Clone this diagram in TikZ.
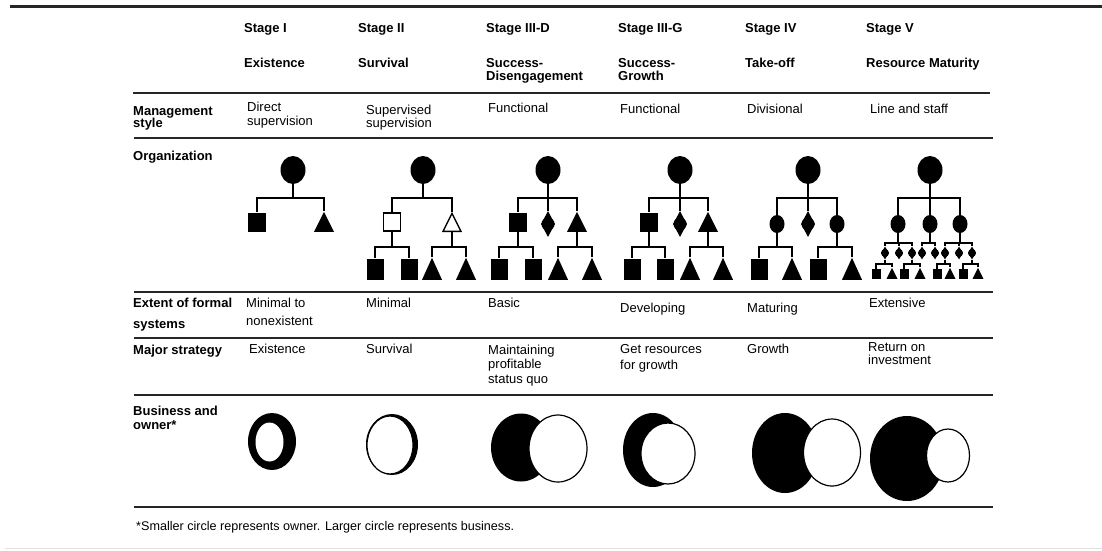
\documentclass[tikz,border=0pt]{standalone}
\usepackage{fontspec}
\setmainfont{Liberation Sans}
\usetikzlibrary{shapes.geometric}
\newcommand\orgedge[3]{\draw[con] (#1.south) |- (#2.north |- #3) -- (#2.north);}
\begin{document}
\begin{tikzpicture}[x=1pt,y=-1pt,
  hd/.style={anchor=base west,inner sep=0,align=left,font=\bfseries\fontsize{13}{13}\selectfont},
  tx/.style={anchor=base west,inner sep=0,align=left,font=\fontsize{13}{13.5}\selectfont},
  foottx/.style={anchor=base west,inner sep=0,font=\fontsize{12.6}{13}\selectfont},
  rule/.style={line width=2.2pt,black!85},
  con/.style={line width=1.8pt},
  root/.style={ellipse,fill,draw=none,inner sep=0,minimum width=25,minimum height=28},
  midc/.style={ellipse,fill,draw=none,inner sep=0,minimum width=15,minimum height=18},
  sq/.style={rectangle,fill,draw=none,inner sep=0,minimum width=18,minimum height=19},
  hsq/.style={rectangle,fill=white,draw,line width=1.3pt,inner sep=0,minimum width=17,minimum height=18},
  lsq/.style={rectangle,fill,draw=none,inner sep=0,minimum width=17,minimum height=21},
  ssq/.style={rectangle,fill,draw=none,inner sep=0,minimum width=9,minimum height=10},
  tri/.style={isosceles triangle,isosceles triangle stretches,shape border rotate=90,fill,draw=none,inner sep=0,minimum width=20,minimum height=20,anchor=south},
  htri/.style={isosceles triangle,isosceles triangle stretches,shape border rotate=90,fill=white,draw,line width=1.3pt,inner sep=0,minimum width=18,minimum height=18,anchor=south},
  ltri/.style={isosceles triangle,isosceles triangle stretches,shape border rotate=90,fill,draw=none,inner sep=0,minimum width=20,minimum height=22,anchor=south},
  stri/.style={isosceles triangle,isosceles triangle stretches,shape border rotate=90,fill,draw=none,inner sep=0,minimum width=11,minimum height=11,anchor=south},
  dia/.style={diamond,fill,draw=none,inner sep=0,minimum width=14,minimum height=26},
  sdia/.style={diamond,fill,draw=none,inner sep=0,minimum width=8,minimum height=13},
  bus/.style={fill=black},
  own/.style={fill=white,draw=black,line width=1.2pt}
]
\useasboundingbox (0,0) rectangle (1102,550);
% rules
\draw[rule,line width=2.5pt] (10,6.5) -- (1102,6.5);
\draw[rule] (133,93) -- (990,93);
\foreach \yy in {138,292,338,395,507} \draw[rule] (134,\yy) -- (993,\yy);
\draw[black!12,line width=1pt] (5,548.5) -- (1102,548.5);
% header (base anchor = baseline of the last line)
\node[hd] (h1) at (244,32) {Stage I};
\node[hd] (h2) at (358,32) {Stage II};
\node[hd] (h3) at (486,32) {Stage III-D};
\node[hd] (h4) at (618,32) {Stage III-G};
\node[hd] (h5) at (745,32) {Stage IV};
\node[hd] (h6) at (866,32) {Stage V};
\node[hd] (n1) at (244,67) {Existence};
\node[hd] (n2) at (358,67) {Survival};
\node[hd] (n3) at (486,80) {Success-\\Disengagement};
\node[hd] (n4) at (618,80) {Success-\\Growth};
\node[hd] (n5) at (745,67) {Take-off};
\node[hd] (n6) at (866,67) {Resource Maturity};
% row labels
\node[hd] (l1) at (133,127) {Management\\[-1pt]style};
\node[hd] (l2) at (133,160) {Organization};
\node[hd] (l3) at (133,328) {Extent of formal\\[8pt]systems};
\node[hd] (l4) at (133,354) {Major strategy};
\node[hd] (l5) at (133,429) {Business and\\[1pt]owner*};
% management style
\node[tx] (m1) at (247,125) {Direct\\[0.5pt]supervision};
\node[tx] (m2) at (366,127) {Supervised\\[-0.5pt]supervision};
\node[tx] (m3) at (488,112) {Functional};
\node[tx] (m4) at (620,113) {Functional};
\node[tx] (m5) at (747,113) {Divisional};
\node[tx] (m6) at (870,113) {Line and staff};
% extent of formal systems
\node[tx] (e1) at (246,325) {Minimal to\\[4.5pt]nonexistent};
\node[tx] (e2) at (366,307) {Minimal};
\node[tx] (e3) at (488,307) {Basic};
\node[tx] (e4) at (620,312) {Developing};
\node[tx] (e5) at (747,312) {Maturing};
\node[tx] (e6) at (869,307) {Extensive};
% major strategy
\node[tx] (g1) at (249,353) {Existence};
\node[tx] (g2) at (366,353) {Survival};
\node[tx] (g3) at (488,383) {Maintaining\\[1pt]profitable\\[1pt]status quo};
\node[tx] (g4) at (620,369) {Get resources\\[2.5pt]for growth};
\node[tx] (g5) at (747,353) {Growth};
\node[tx] (g6) at (868,364) {Return on\\[-0.5pt]investment};
% footnote
\node[foottx] (foot) at (136,530) {*Smaller circle represents owner. Larger circle represents business.};
% bar levels
\coordinate (barA) at (0,198);
\coordinate (barB) at (0,247);
\coordinate (barC) at (0,243);
\coordinate (barD) at (0,264);
% Stage I tree
\node[root] (a0) at (293,170) {};
\node[sq] (a1) at (257,222) {};
\node[tri] (a2) at (324,232) {};
\orgedge{a0}{a1}{barA} \orgedge{a0}{a2}{barA}
% Stage II tree
\node[root] (b0) at (423,170) {};
\node[hsq] (b1) at (392,222) {};
\node[htri] (b2) at (452,232) {};
\node[lsq] (b3) at (375,269) {};
\node[lsq] (b4) at (409,269) {};
\node[ltri] (b5) at (432,280) {};
\node[ltri] (b6) at (466,280) {};
\orgedge{b0}{b1}{barA} \orgedge{b0}{b2}{barA}
\orgedge{b1}{b3}{barB} \orgedge{b1}{b4}{barB}
\orgedge{b2}{b5}{barB} \orgedge{b2}{b6}{barB}
% Stage III-D tree
\node[root] (c0) at (548,170) {};
\node[sq] (c1) at (518,222) {};
\node[dia] (c2) at (548,224) {};
\node[tri] (c3) at (577,232) {};
\node[lsq] (c4) at (499,269) {};
\node[lsq] (c5) at (533,269) {};
\node[ltri] (c6) at (558,280) {};
\node[ltri] (c7) at (592,280) {};
\orgedge{c0}{c1}{barA} \orgedge{c0}{c2}{barA} \orgedge{c0}{c3}{barA}
\orgedge{c1}{c4}{barB} \orgedge{c1}{c5}{barB}
\orgedge{c3}{c6}{barB} \orgedge{c3}{c7}{barB}
\fill (c2.center) circle (6.5);
% Stage III-G tree
\node[root] (d0) at (680,170) {};
\node[sq] (d1) at (649,222) {};
\node[dia] (d2) at (680,224) {};
\node[tri] (d3) at (708,232) {};
\node[lsq] (d4) at (632,269) {};
\node[lsq] (d5) at (665,269) {};
\node[ltri] (d6) at (690,280) {};
\node[ltri] (d7) at (723,280) {};
\orgedge{d0}{d1}{barA} \orgedge{d0}{d2}{barA} \orgedge{d0}{d3}{barA}
\orgedge{d1}{d4}{barB} \orgedge{d1}{d5}{barB}
\orgedge{d3}{d6}{barB} \orgedge{d3}{d7}{barB}
\fill (d2.center) circle (6.5);
% Stage IV tree
\node[root] (e0) at (808,170) {};
\node[midc] (e1n) at (777,224) {};
\node[dia] (e2n) at (808,224) {};
\node[midc] (e3n) at (837,224) {};
\node[lsq] (e4n) at (759,269) {};
\node[ltri] (e5n) at (792,280) {};
\node[lsq] (e6n) at (818,269) {};
\node[ltri] (e7n) at (852,280) {};
\orgedge{e0}{e1n}{barA} \orgedge{e0}{e2n}{barA} \orgedge{e0}{e3n}{barA}
\orgedge{e1n}{e4n}{barB} \orgedge{e1n}{e5n}{barB}
\orgedge{e3n}{e6n}{barB} \orgedge{e3n}{e7n}{barB}
\fill (e2n.center) circle (6.5);
% Stage V tree
\node[root] (f0) at (930,170) {};
\node[midc] (f1) at (898,224) {};
\node[midc] (f2) at (930,224) {};
\node[midc] (f3) at (960,224) {};
\orgedge{f0}{f1}{barA} \orgedge{f0}{f2}{barA} \orgedge{f0}{f3}{barA}
\foreach \nm/\xx in {f4/885,f5/899,f6/912,f7/922,f8/935,f9/945,f10/959,f11/972}{
  \node[sdia] (\nm) at (\xx,253) {};
  \fill (\nm.center) circle (4);
}
\orgedge{f1}{f4}{barC} \orgedge{f1}{f5}{barC} \orgedge{f1}{f6}{barC}
\orgedge{f2}{f7}{barC} \orgedge{f2}{f8}{barC}
\orgedge{f3}{f9}{barC} \orgedge{f3}{f10}{barC} \orgedge{f3}{f11}{barC}
\node[ssq] (f12) at (876,274) {};
\node[stri] (f13) at (892,279) {};
\node[ssq] (f14) at (904,274) {};
\node[stri] (f15) at (920,279) {};
\node[ssq] (f16) at (937,274) {};
\node[stri] (f17) at (950,279) {};
\node[ssq] (f18) at (963,274) {};
\node[stri] (f19) at (978,279) {};
\orgedge{f4}{f12}{barD} \orgedge{f4}{f13}{barD}
\orgedge{f6}{f14}{barD} \orgedge{f6}{f15}{barD}
\orgedge{f9}{f16}{barD} \orgedge{f9}{f17}{barD}
\orgedge{f11}{f18}{barD} \orgedge{f11}{f19}{barD}
% business and owner
\fill[bus] (272,441.5) ellipse (24 and 28.5);
\fill[white] (269.5,442) ellipse (14 and 19.5);
\fill[bus] (392,444.5) ellipse (26 and 30.5);
\filldraw[own] (390,445) ellipse (23 and 29);
\fill[bus] (521,447.5) ellipse (30 and 34);
\filldraw[own] (558,448.5) ellipse (29 and 33.5);
\fill[bus] (653,450) ellipse (30 and 37);
\filldraw[own] (668,453.5) ellipse (27 and 30.5);
\fill[bus] (785,453) ellipse (33 and 40);
\filldraw[own] (832,452.5) ellipse (28.5 and 33.5);
\fill[bus] (907,458.5) ellipse (37 and 42.5);
\filldraw[own] (948,455.5) ellipse (21.5 and 26.5);
\end{tikzpicture}
\end{document}
